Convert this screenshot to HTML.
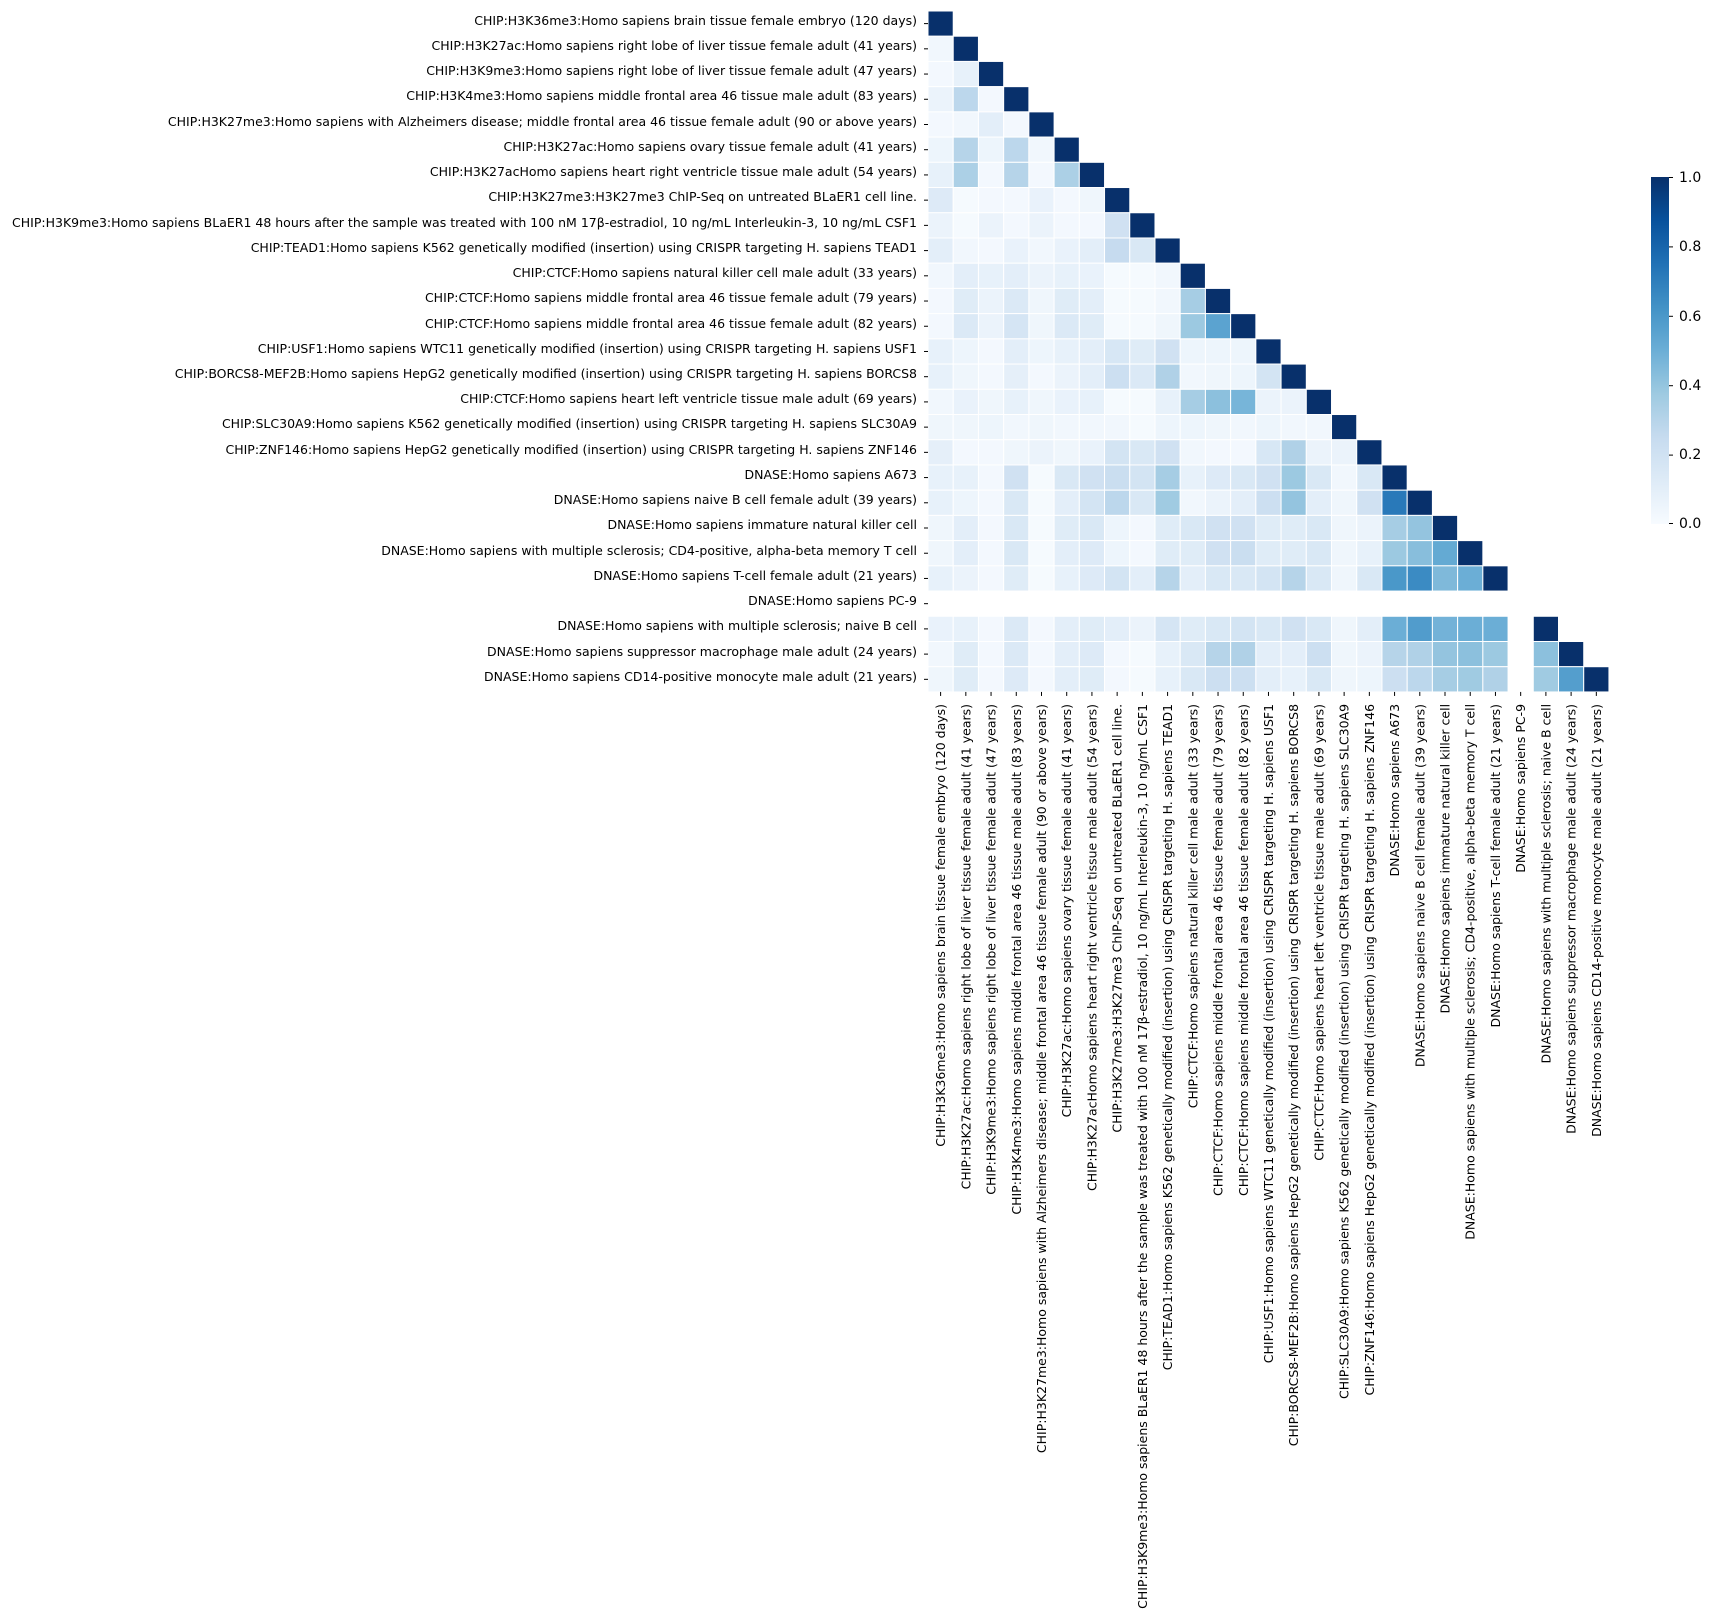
<!DOCTYPE html>
<html><head><meta charset="utf-8">
<style>
html,body{margin:0;padding:0;background:#fff;}
svg{display:block;}
text{font-family:"DejaVu Sans","Liberation Sans",sans-serif;font-size:12.5px;fill:#000;}
.cb{font-size:14px;}
</style></head><body>
<svg id="s" width="1710" height="1618" viewBox="0 0 1710 1618" xmlns="http://www.w3.org/2000/svg">
<defs>
<linearGradient id="bl" x1="0" y1="1" x2="0" y2="0">
<stop offset="0" stop-color="#f7fbff"/><stop offset="0.125" stop-color="#deebf7"/><stop offset="0.25" stop-color="#c6dbef"/><stop offset="0.375" stop-color="#9ecae1"/><stop offset="0.5" stop-color="#6baed6"/><stop offset="0.625" stop-color="#4292c6"/><stop offset="0.75" stop-color="#2171b5"/><stop offset="0.875" stop-color="#08519c"/><stop offset="1" stop-color="#08306b"/>
</linearGradient>
</defs>
<g id="cells"></g>
<g id="rowlab" text-anchor="end">
<text x="917" y="25">CHIP:H3K36me3:Homo sapiens brain tissue female embryo (120 days)</text>
<text x="917" y="50">CHIP:H3K27ac:Homo sapiens right lobe of liver tissue female adult (41 years)</text>
<text x="917" y="75">CHIP:H3K9me3:Homo sapiens right lobe of liver tissue female adult (47 years)</text>
<text x="917" y="100">CHIP:H3K4me3:Homo sapiens middle frontal area 46 tissue male adult (83 years)</text>
<text x="917" y="126">CHIP:H3K27me3:Homo sapiens with Alzheimers disease; middle frontal area 46 tissue female adult (90 or above years)</text>
<text x="917" y="151">CHIP:H3K27ac:Homo sapiens ovary tissue female adult (41 years)</text>
<text x="917" y="176">CHIP:H3K27acHomo sapiens heart right ventricle tissue male adult (54 years)</text>
<text x="917" y="201">CHIP:H3K27me3:H3K27me3 ChIP-Seq on untreated BLaER1 cell line.</text>
<text x="917" y="227">CHIP:H3K9me3:Homo sapiens BLaER1 48 hours after the sample was treated with 100 nM 17β-estradiol, 10 ng/mL Interleukin-3, 10 ng/mL CSF1</text>
<text x="917" y="252">CHIP:TEAD1:Homo sapiens K562 genetically modified (insertion) using CRISPR targeting H. sapiens TEAD1</text>
<text x="917" y="277">CHIP:CTCF:Homo sapiens natural killer cell male adult (33 years)</text>
<text x="917" y="302">CHIP:CTCF:Homo sapiens middle frontal area 46 tissue female adult (79 years)</text>
<text x="917" y="328">CHIP:CTCF:Homo sapiens middle frontal area 46 tissue female adult (82 years)</text>
<text x="917" y="353">CHIP:USF1:Homo sapiens WTC11 genetically modified (insertion) using CRISPR targeting H. sapiens USF1</text>
<text x="917" y="378">CHIP:BORCS8-MEF2B:Homo sapiens HepG2 genetically modified (insertion) using CRISPR targeting H. sapiens BORCS8</text>
<text x="917" y="403">CHIP:CTCF:Homo sapiens heart left ventricle tissue male adult (69 years)</text>
<text x="917" y="428">CHIP:SLC30A9:Homo sapiens K562 genetically modified (insertion) using CRISPR targeting H. sapiens SLC30A9</text>
<text x="917" y="454">CHIP:ZNF146:Homo sapiens HepG2 genetically modified (insertion) using CRISPR targeting H. sapiens ZNF146</text>
<text x="917" y="479">DNASE:Homo sapiens A673</text>
<text x="917" y="504">DNASE:Homo sapiens naive B cell female adult (39 years)</text>
<text x="917" y="529">DNASE:Homo sapiens immature natural killer cell</text>
<text x="917" y="555">DNASE:Homo sapiens with multiple sclerosis; CD4-positive, alpha-beta memory T cell</text>
<text x="917" y="580">DNASE:Homo sapiens T-cell female adult (21 years)</text>
<text x="917" y="605">DNASE:Homo sapiens PC-9</text>
<text x="917" y="630">DNASE:Homo sapiens with multiple sclerosis; naive B cell</text>
<text x="917" y="656">DNASE:Homo sapiens suppressor macrophage male adult (24 years)</text>
<text x="917" y="681">DNASE:Homo sapiens CD14-positive monocyte male adult (21 years)</text>
</g>
<g id="collab" text-anchor="end"></g>
<g id="ticks" stroke="#000" stroke-width="1"></g>
<rect x="1651" y="177" width="18" height="347" fill="url(#bl)"/>
<g stroke="#000">
<line x1="1669" y1="177.5" x2="1673" y2="177.5"/><line x1="1669" y1="246.9" x2="1673" y2="246.9"/><line x1="1669" y1="316.3" x2="1673" y2="316.3"/><line x1="1669" y1="385.7" x2="1673" y2="385.7"/><line x1="1669" y1="455.1" x2="1673" y2="455.1"/><line x1="1669" y1="523.5" x2="1673" y2="523.5"/>
</g>
<g>
<text class="cb" x="1679" y="182">1.0</text><text class="cb" x="1679" y="251">0.8</text><text class="cb" x="1679" y="321">0.6</text><text class="cb" x="1679" y="390">0.4</text><text class="cb" x="1679" y="459">0.2</text><text class="cb" x="1679" y="528">0.0</text>
</g>
</svg>
<script>
var colLabels=[
"CHIP:H3K36me3:Homo sapiens brain tissue female embryo (120 days)",
"CHIP:H3K27ac:Homo sapiens right lobe of liver tissue female adult (41 years)",
"CHIP:H3K9me3:Homo sapiens right lobe of liver tissue female adult (47 years)",
"CHIP:H3K4me3:Homo sapiens middle frontal area 46 tissue male adult (83 years)",
"CHIP:H3K27me3:Homo sapiens with Alzheimers disease; middle frontal area 46 tissue female adult (90 or above years)",
"CHIP:H3K27ac:Homo sapiens ovary tissue female adult (41 years)",
"CHIP:H3K27acHomo sapiens heart right ventricle tissue male adult (54 years)",
"CHIP:H3K27me3:H3K27me3 ChIP-Seq on untreated BLaER1 cell line.",
"CHIP:H3K9me3:Homo sapiens BLaER1 48 hours after the sample was treated with 100 nM 17β-estradiol, 10 ng/mL Interleukin-3, 10 ng/mL CSF1",
"CHIP:TEAD1:Homo sapiens K562 genetically modified (insertion) using CRISPR targeting H. sapiens TEAD1",
"CHIP:CTCF:Homo sapiens natural killer cell male adult (33 years)",
"CHIP:CTCF:Homo sapiens middle frontal area 46 tissue female adult (79 years)",
"CHIP:CTCF:Homo sapiens middle frontal area 46 tissue female adult (82 years)",
"CHIP:USF1:Homo sapiens WTC11 genetically modified (insertion) using CRISPR targeting H. sapiens USF1",
"CHIP:BORCS8-MEF2B:Homo sapiens HepG2 genetically modified (insertion) using CRISPR targeting H. sapiens BORCS8",
"CHIP:CTCF:Homo sapiens heart left ventricle tissue male adult (69 years)",
"CHIP:SLC30A9:Homo sapiens K562 genetically modified (insertion) using CRISPR targeting H. sapiens SLC30A9",
"CHIP:ZNF146:Homo sapiens HepG2 genetically modified (insertion) using CRISPR targeting H. sapiens ZNF146",
"DNASE:Homo sapiens A673",
"DNASE:Homo sapiens naive B cell female adult (39 years)",
"DNASE:Homo sapiens immature natural killer cell",
"DNASE:Homo sapiens with multiple sclerosis; CD4-positive, alpha-beta memory T cell",
"DNASE:Homo sapiens T-cell female adult (21 years)",
"DNASE:Homo sapiens PC-9",
"DNASE:Homo sapiens with multiple sclerosis; naive B cell",
"DNASE:Homo sapiens suppressor macrophage male adult (24 years)",
"DNASE:Homo sapiens CD14-positive monocyte male adult (21 years)"];
var D=[
[1],
[.03,1],
[.02,.08,1],
[.06,.28,.02,1],
[.02,.03,.1,.02,1],
[.05,.3,.05,.28,.03,1],
[.08,.33,.02,.3,.02,.33,1],
[.13,.01,.02,.02,.07,.02,.04,1],
[.06,.01,.06,.02,.06,.02,.02,.2,1],
[.1,.03,.02,.07,.03,.07,.1,.25,.15,1],
[.03,.1,.08,.1,.06,.08,.07,.01,.01,.03,1],
[.02,.12,.06,.14,.04,.12,.1,.01,.01,.03,.35,1],
[.02,.14,.06,.17,.04,.14,.12,.01,.01,.04,.38,.55,1],
[.08,.05,.02,.1,.05,.08,.1,.16,.12,.2,.05,.05,.05,1],
[.08,.04,.02,.09,.02,.06,.1,.22,.14,.32,.03,.04,.05,.18,1],
[.03,.07,.04,.08,.04,.07,.08,.01,.01,.08,.35,.42,.47,.06,.06,1],
[.04,.04,.05,.03,.04,.03,.03,.03,.01,.05,.05,.04,.03,.05,.03,.03,1],
[.09,.02,.02,.04,.06,.04,.07,.18,.15,.2,.03,.02,.02,.16,.32,.06,.06,1],
[.08,.08,.02,.2,.01,.15,.2,.23,.18,.35,.08,.13,.15,.2,.38,.15,.03,.15,1],
[.08,.05,.02,.15,.01,.1,.18,.28,.15,.37,.03,.06,.1,.22,.4,.1,.04,.2,.72,1],
[.04,.1,.02,.15,.01,.12,.15,.05,.02,.12,.15,.2,.2,.12,.12,.15,.04,.06,.35,.4,1],
[.04,.1,.02,.15,.01,.1,.13,.05,.02,.12,.12,.2,.23,.12,.12,.15,.04,.08,.38,.43,.52,1],
[.08,.06,.02,.12,.01,.08,.13,.18,.1,.3,.1,.15,.15,.18,.3,.15,.04,.15,.6,.65,.45,.5,1],
[],
[.07,.08,.02,.14,.02,.1,.12,.1,.06,.17,.12,.15,.18,.15,.2,.15,.04,.1,.5,.58,.48,.5,.5,null,1],
[.03,.12,.02,.14,.02,.1,.13,.02,.01,.08,.15,.3,.32,.1,.1,.22,.04,.06,.3,.32,.4,.42,.38,null,.42,1],
[.04,.12,.02,.13,.02,.1,.12,.02,.01,.08,.15,.22,.22,.1,.08,.15,.04,.05,.22,.28,.35,.37,.32,null,.37,.57,1]];
var stops=[[247,251,255],[222,235,247],[198,219,239],[158,202,225],[107,174,214],[66,146,198],[33,113,181],[8,81,156],[8,48,107]];
function col(v){v=Math.max(0,Math.min(1,v));var p=v*8,i=Math.min(7,Math.floor(p)),f=p-i;var a=stops[i],b=stops[i+1];
return "rgb("+[0,1,2].map(function(k){return Math.round(a[k]+(b[k]-a[k])*f)}).join(",")+")";}
var NS="http://www.w3.org/2000/svg",X0=928,Y0=11,C=25.22;
var g=document.getElementById("cells"),t=document.getElementById("ticks"),cl=document.getElementById("collab");
for(var r=0;r<27;r++){for(var c=0;c<D[r].length;c++){var v=D[r][c];if(v==null)continue;
var e=document.createElementNS(NS,"rect");e.setAttribute("x",X0+c*C);e.setAttribute("y",Y0+r*C);e.setAttribute("width",C);e.setAttribute("height",C);
e.setAttribute("fill",col(v));e.setAttribute("stroke","#fff");e.setAttribute("stroke-width","1");g.appendChild(e);}}
for(var i=0;i<27;i++){var y=Y0+(i+.5)*C,x=X0+(i+.5)*C;
var l=document.createElementNS(NS,"line");l.setAttribute("x1",X0-4);l.setAttribute("x2",X0);l.setAttribute("y1",y);l.setAttribute("y2",y);t.appendChild(l);
var l2=document.createElementNS(NS,"line");l2.setAttribute("x1",x);l2.setAttribute("x2",x);l2.setAttribute("y1",Y0+27*C);l2.setAttribute("y2",Y0+27*C+4);t.appendChild(l2);
var tx=document.createElementNS(NS,"text");tx.setAttribute("transform","translate("+(x+4.5)+","+(Y0+27*C+12)+") rotate(-90)");tx.textContent=colLabels[i];cl.appendChild(tx);}
</script>
</body></html>
